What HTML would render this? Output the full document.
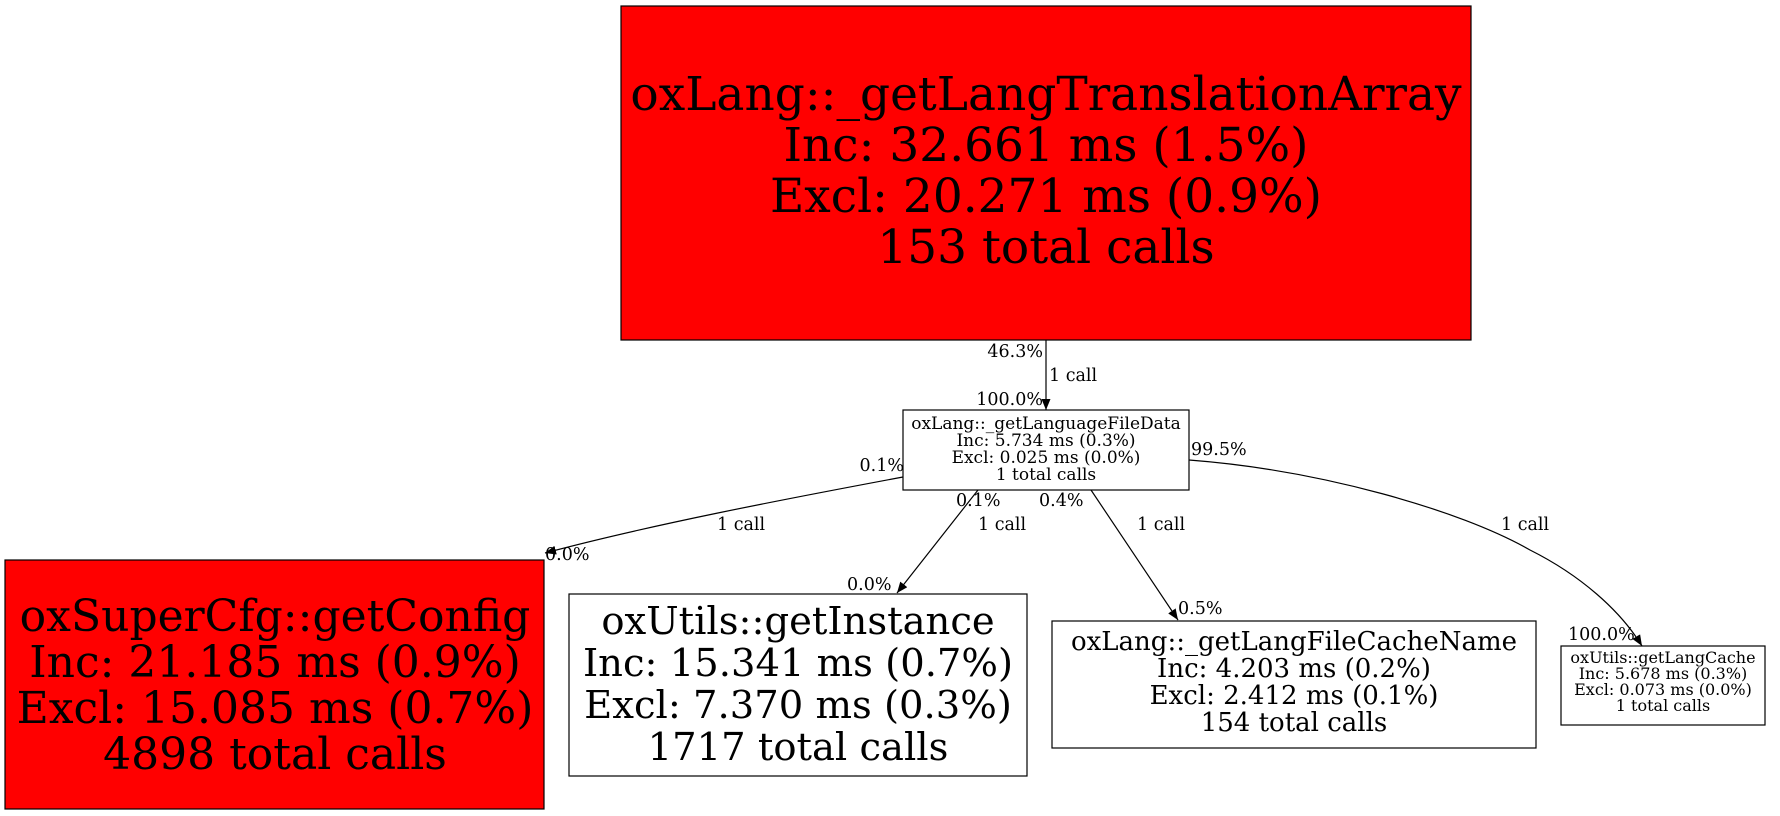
<!DOCTYPE html>
<html><head><meta charset="utf-8"><style>
html,body{margin:0;padding:0;background:#fff;}
svg{display:block;}
text{font-family:"DejaVu Serif","Liberation Serif",serif;fill:#000;}
</style></head><body>
<svg width="1780" height="816" viewBox="0 0 1780 816" xmlns="http://www.w3.org/2000/svg">
<defs><marker id="a" markerWidth="11" markerHeight="9" refX="11" refY="4.5" orient="auto" markerUnits="userSpaceOnUse"><path d="M0,0 L11,4.5 L0,9 z" fill="#000"/></marker></defs>
<rect x="621" y="6" width="850" height="334" fill="#f00" stroke="#000" stroke-width="1.2"/>
<g font-size="47" text-anchor="middle">
<text x="1046" y="110">oxLang::_getLangTranslationArray</text>
<text x="1046" y="161">Inc: 32.661 ms (1.5%)</text>
<text x="1046" y="212">Excl: 20.271 ms (0.9%)</text>
<text x="1046" y="263">153 total calls</text>
</g>
<rect x="903" y="410" width="286" height="80" fill="#fff" stroke="#000" stroke-width="1.2"/>
<g font-size="17" text-anchor="middle">
<text x="1046" y="429">oxLang::_getLanguageFileData</text>
<text x="1046" y="446">Inc: 5.734 ms (0.3%)</text>
<text x="1046" y="463">Excl: 0.025 ms (0.0%)</text>
<text x="1046" y="480">1 total calls</text>
</g>
<rect x="5" y="560" width="539" height="249" fill="#f00" stroke="#000" stroke-width="1.2"/>
<g font-size="44" text-anchor="middle">
<text x="275" y="631">oxSuperCfg::getConfig</text>
<text x="275" y="677">Inc: 21.185 ms (0.9%)</text>
<text x="275" y="723">Excl: 15.085 ms (0.7%)</text>
<text x="275" y="769">4898 total calls</text>
</g>
<rect x="569" y="594" width="458" height="182" fill="#fff" stroke="#000" stroke-width="1.2"/>
<g font-size="38.5" text-anchor="middle">
<text x="798" y="634">oxUtils::getInstance</text>
<text x="798" y="676">Inc: 15.341 ms (0.7%)</text>
<text x="798" y="718">Excl: 7.370 ms (0.3%)</text>
<text x="798" y="760">1717 total calls</text>
</g>
<rect x="1052" y="621" width="484" height="127" fill="#fff" stroke="#000" stroke-width="1.2"/>
<g font-size="26" text-anchor="middle">
<text x="1294" y="650">oxLang::_getLangFileCacheName</text>
<text x="1294" y="677">Inc: 4.203 ms (0.2%)</text>
<text x="1294" y="704">Excl: 2.412 ms (0.1%)</text>
<text x="1294" y="731">154 total calls</text>
</g>
<rect x="1561" y="646" width="204" height="79" fill="#fff" stroke="#000" stroke-width="1.2"/>
<g font-size="16" text-anchor="middle">
<text x="1663" y="663">oxUtils::getLangCache</text>
<text x="1663" y="679">Inc: 5.678 ms (0.3%)</text>
<text x="1663" y="695">Excl: 0.073 ms (0.0%)</text>
<text x="1663" y="711">1 total calls</text>
</g>
<g fill="none" stroke="#000" stroke-width="1.2" marker-end="url(#a)">
<path d="M1046,340 L1046,410"/>
<path d="M903,477 C780,500 650,525 545,553"/>
<path d="M978,490 L897,593"/>
<path d="M1091,490 L1178,620"/>
<path d="M1189,460 C1320,470 1460,510 1530,550 C1580,575 1620,610 1642,646"/>
</g>
<g font-size="17.5">
<text x="1043" y="357" text-anchor="end">46.3%</text>
<text x="1049" y="381">1 call</text>
<text x="1043" y="405" text-anchor="end">100.0%</text>
<text x="904" y="471" text-anchor="end">0.1%</text>
<text x="717" y="530">1 call</text>
<text x="545" y="560">0.0%</text>
<text x="956" y="506">0.1%</text>
<text x="978" y="530">1 call</text>
<text x="847" y="590">0.0%</text>
<text x="1039" y="506">0.4%</text>
<text x="1137" y="530">1 call</text>
<text x="1178" y="614">0.5%</text>
<text x="1191" y="455">99.5%</text>
<text x="1501" y="530">1 call</text>
<text x="1568" y="640">100.0%</text>
</g>
</svg>
</body></html>
